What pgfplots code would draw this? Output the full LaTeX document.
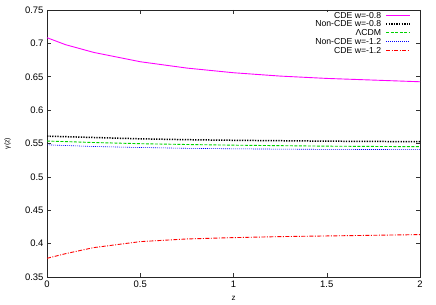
\documentclass[border=0pt]{standalone}
\usepackage{fontspec}
\setmainfont{Liberation Sans}
\usepackage{pgfplots}
\pgfplotsset{compat=1.18}
\definecolor{cmag}{RGB}{255,0,255}
\definecolor{cgreen}{RGB}{0,210,0}
\definecolor{cblue}{RGB}{0,0,255}
\definecolor{cred}{RGB}{255,0,0}
\definecolor{cblack}{RGB}{0,0,0}
\begin{document}
\begin{tikzpicture}[font=\fontsize{9.5}{11}\selectfont]
\useasboundingbox (0,0) rectangle (436bp,305bp);
\begin{axis}[
  at={(47bp,28bp)}, anchor=south west,
  scale only axis, width=373bp, height=267bp,
  xmin=0, xmax=2, ymin=0.35, ymax=0.75,
  xtick={0,0.5,1,1.5,2},
  ytick={0.35,0.4,0.45,0.5,0.55,0.6,0.65,0.7,0.75},
  /pgf/number format/assume math mode=true,
  yticklabel style={/pgf/number format/fixed, /pgf/number format/precision=2},
  major tick length=4bp,
  tick style={black!80, line width=0.5pt},
  axis line style={black!85, line width=0.8pt},
  xlabel={z}, ylabel={γ(z)},
  xlabel style={at={(axis description cs:0.5,0)}, anchor=center, yshift=-21bp, font=\fontsize{8}{9}\selectfont},
  ylabel style={at={([xshift=-39.5bp]axis description cs:0,0.5)}, anchor=center, font=\fontsize{7}{8}\selectfont},
  legend cell align=right,
  legend plot pos=none,
  legend style={at={(axis description cs:0.8973,0.995)}, anchor=north east, draw=none,
    font=\fontsize{8.7}{9}\selectfont, row sep=0pt, inner sep=0pt,
    nodes={inner sep=0.4pt, text height=6.3bp, text depth=1.6bp}},
]
\addplot[color=cmag, line width=0.9pt] coordinates {
(0,0.7085) (0.1,0.698) (0.25,0.6865) (0.5,0.6725) (0.75,0.663) (1,0.656) (1.25,0.651) (1.5,0.6475) (1.75,0.645) (2,0.6425)};
\addlegendentry{CDE w=-0.8}
\addplot[color=cblack, line width=1.5pt, dash pattern=on 1.3bp off 1.3bp] coordinates {
(0,0.561) (0.25,0.559) (0.5,0.557) (0.75,0.5557) (1,0.5548) (1.5,0.5535) (2,0.5527)};
\addlegendentry{Non-CDE w=-0.8}
\addplot[color=cgreen, line width=0.9pt, dash pattern=on 3bp off 1.5bp] coordinates {
(0,0.5537) (0.25,0.5515) (0.5,0.5497) (0.75,0.5485) (1,0.5475) (1.5,0.546) (2,0.5452)};
\addlegendentry{ΛCDM}
\addplot[color=cblue, line width=0.6pt, dash pattern=on 1bp off 1bp] coordinates {
(0,0.548) (0.25,0.5455) (0.5,0.544) (0.75,0.5428) (1,0.542) (1.5,0.5412) (2,0.5408)};
\addlegendentry{Non-CDE w=-1.2}
\addplot[color=cred, line width=0.9pt, dash pattern=on 4bp off 1.5bp on 1bp off 1.5bp] coordinates {
(0,0.378) (0.1,0.385) (0.25,0.394) (0.5,0.403) (0.75,0.407) (1,0.409) (1.25,0.4105) (1.5,0.4115) (1.75,0.4125) (2,0.4135)};
\addlegendentry{CDE w=-1.2}
% legend key samples
\addplot[forget plot, color=cmag, line width=0.9pt] coordinates {(1.818,0.7421) (1.9464,0.7421)};
\addplot[forget plot, color=cblack, line width=1.5pt, dash pattern=on 1.3bp off 1.3bp] coordinates {(1.818,0.7290) (1.9464,0.7290)};
\addplot[forget plot, color=cgreen, line width=0.9pt, dash pattern=on 3bp off 1.5bp] coordinates {(1.818,0.7160) (1.9464,0.7160)};
\addplot[forget plot, color=cblue, line width=0.6pt, dash pattern=on 1bp off 1bp] coordinates {(1.818,0.7030) (1.9464,0.7030)};
\addplot[forget plot, color=cred, line width=0.9pt, dash pattern=on 4bp off 1.5bp on 1bp off 1.5bp] coordinates {(1.818,0.6899) (1.9464,0.6899)};
\end{axis}
\end{tikzpicture}
\end{document}
